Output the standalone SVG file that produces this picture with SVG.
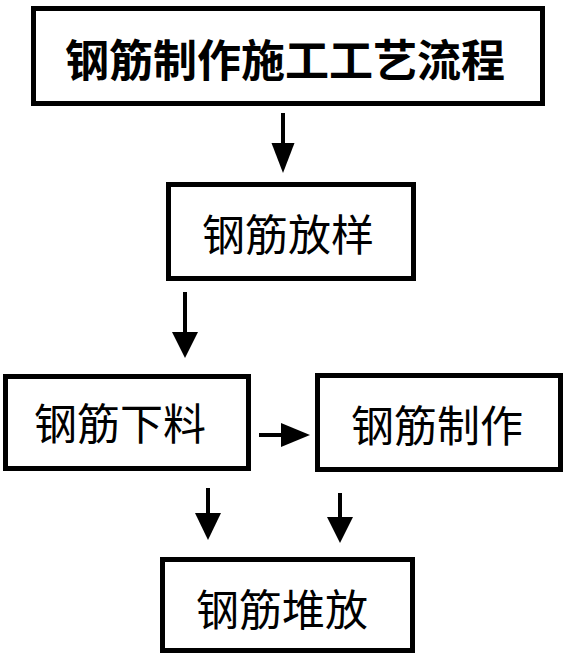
<svg xmlns="http://www.w3.org/2000/svg" width="566" height="655" viewBox="0 0 566 655">
  <style>
    .box { fill: #ffffff; stroke: #000000; stroke-width: 5; }
    .lbl { font-family: "Noto Sans CJK SC", "Liberation Sans", sans-serif; font-size: 43px; fill: #000000; text-anchor: middle; }
    .title { font-size: 44px; font-weight: bold; }
    .shaft { stroke: #000000; stroke-width: 4; fill: none; }
    .head { fill: #000000; stroke: none; }
  </style>
  <rect x="0" y="0" width="566" height="655" fill="#ffffff"/>
  <g id="node-title">
    <rect class="box" x="33.5" y="8.5" width="509" height="95"/>
    <text class="lbl title" x="285" y="77">钢筋制作施工工艺流程</text>
  </g>
  <g id="node-fangyang">
    <rect class="box" x="168.5" y="184.5" width="245" height="94"/>
    <text class="lbl" x="288" y="251">钢筋放样</text>
  </g>
  <g id="node-xialiao">
    <rect class="box" x="5.5" y="376.5" width="243" height="92"/>
    <text class="lbl" x="120" y="440">钢筋下料</text>
  </g>
  <g id="node-zhizuo">
    <rect class="box" x="317.5" y="375.5" width="243" height="94"/>
    <text class="lbl" x="437" y="442">钢筋制作</text>
  </g>
  <g id="node-duifang">
    <rect class="box" x="162.5" y="559.5" width="250" height="91"/>
    <text class="lbl" x="282" y="626">钢筋堆放</text>
  </g>
  <g id="connectors">
    <line class="shaft" x1="283" y1="113" x2="283" y2="145"/>
    <polygon class="head" points="271.5,143 294.5,143 283,173"/>
    <line class="shaft" x1="185" y1="292" x2="185" y2="334"/>
    <polygon class="head" points="172,332 198,332 185,358"/>
    <line class="shaft" x1="259" y1="435" x2="283" y2="435"/>
    <polygon class="head" points="281,423 281,447 310,435"/>
    <line class="shaft" x1="208" y1="488" x2="208" y2="515"/>
    <polygon class="head" points="195,513 221,513 208,540"/>
    <line class="shaft" x1="340" y1="493" x2="340" y2="519"/>
    <polygon class="head" points="327,517 353,517 340,543"/>
  </g>
</svg>
